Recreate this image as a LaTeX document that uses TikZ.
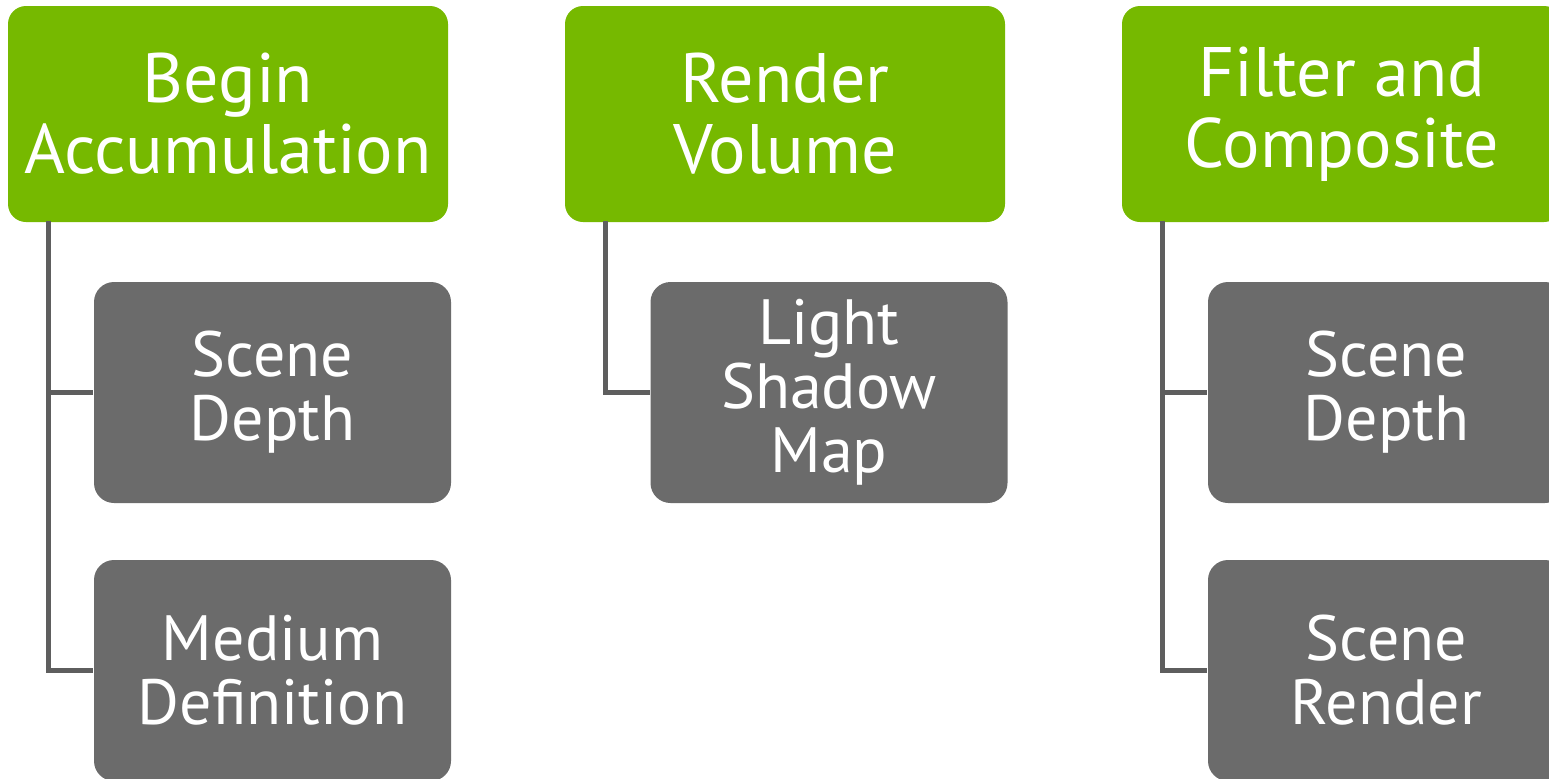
\documentclass[tikz,border=0pt]{standalone}
\usepackage{fontspec}
\setmainfont{PT Sans}
\usepackage{xcolor}
\usetikzlibrary{positioning}
\definecolor{stagegreen}{RGB}{118,185,0}
\definecolor{taskgray}{RGB}{107,107,107}
\definecolor{linkgray}{RGB}{94,94,94}
\tikzset{every picture/.style={line width=0.75pt}}
\tikzset{
  stagebox/.style={fill=stagegreen, rounded corners=9pt, minimum width=220pt, minimum height=108pt,
    inner sep=0pt, text=white, align=center, font=\fontsize{35}{35.5}\selectfont},
  taskbox/.style={fill=taskgray, rounded corners=10pt, minimum width=178.5pt, minimum height=110.5pt,
    inner sep=0pt, text=white, align=center, font=\fontsize{32}{32}\selectfont},
  link/.style={draw=linkgray, line width=2.4pt}
}

\begin{document}
\begin{tikzpicture}[x=0.5pt,y=0.5pt,yscale=-1,xscale=1]
\useasboundingbox (0,0) rectangle (1549,778);
\clip (0,0) rectangle (1549,778);

% Stage boxes
\node [stagebox] (begin) at (228,114) {Begin\\Accumulation};
\node [stagebox] (render) at (785,114) {Render\\Volume};
\node [stagebox] (filter) at (1342,114) {Filter and\\Composite};

% Task boxes
\node [taskbox] (depthA) at (272.5,392.5) {Scene\\Depth};
\node [taskbox] (medium) at (272.5,670.5) {Medium\\Definition};
\node [taskbox] (shadow) at (829,392.5) {Light\\Shadow\\Map};
\node [taskbox] (depthB) at (1386.5,392.5) {Scene\\Depth};
\node [taskbox] (scene) at (1386.5,670.5) {Scene\\Render};

% Trunks
\coordinate (trunkA) at ([xshift=20.5pt,yshift=-1pt]begin.south west);
\coordinate (trunkB) at ([xshift=20.5pt,yshift=-1pt]render.south west);
\coordinate (trunkC) at ([xshift=20.5pt,yshift=-1pt]filter.south west);

\draw [link] (trunkA) |- (depthA.west);
\draw [link] (trunkA) |- (medium.west);
\draw [link] (trunkB) |- (shadow.west);
\draw [link] (trunkC) |- (depthB.west);
\draw [link] (trunkC) |- (scene.west);

\end{tikzpicture}
\end{document}
